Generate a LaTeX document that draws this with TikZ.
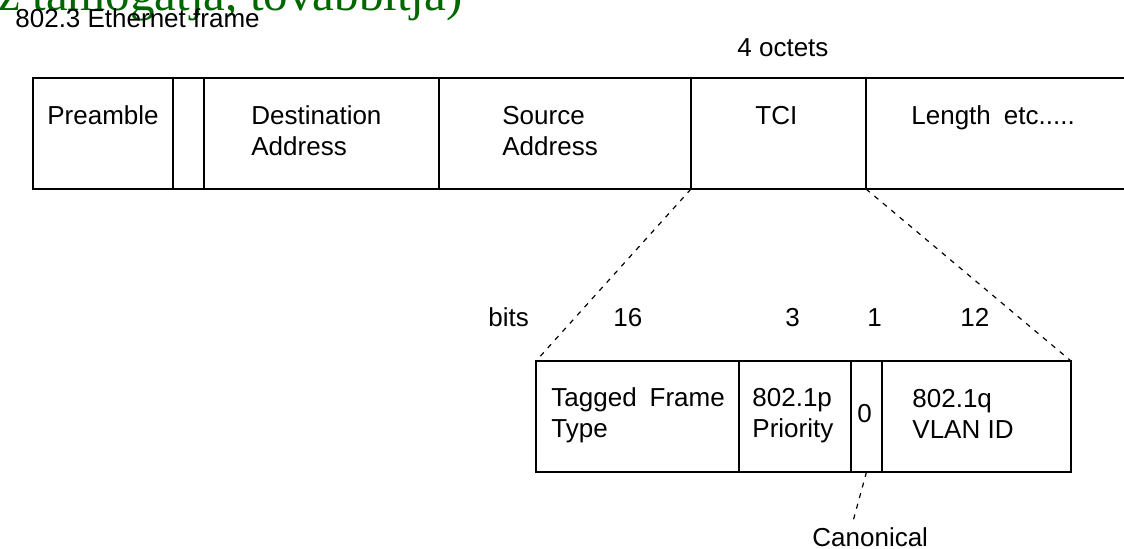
\documentclass[tikz,border=0pt]{standalone}
\usepackage{fontspec}
\setmainfont{Liberation Sans}
\newfontfamily\noteserif{Liberation Serif}
\usetikzlibrary{calc}
\definecolor{NoteGreen}{RGB}{0,102,0}

\begin{document}
\begin{tikzpicture}[x=0.5pt, y=-0.5pt,
    field/.style={draw, line width=1pt, anchor=north west, minimum height=55.5pt, inner sep=0pt, outer sep=0pt},
    lbl/.style={anchor=base west, inner sep=0pt, align=left, font=\fontsize{13}{15.5}\selectfont},
    zoomline/.style={dashed, dash pattern=on 2.5pt off 3pt, line width=0.6pt}]
    \useasboundingbox (0,0) rectangle (1124,549);
    % Clipped note at the top
    \node[anchor=base west, inner sep=0pt, text=NoteGreen, font=\noteserif\fontsize{24.5}{30}\selectfont] (note) at (-2,11) {z támogatja, továbbítja)};
    \node[lbl] (title) at (15,28) {802.3 Ethernet frame};
    \node[lbl] (octets) at (737,57) {4 octets};
    % Draw Ethernet frame fields
    \node[field, minimum width=70pt] (pre) at (33,78) {};
    \node[field, minimum width=15.5pt] (sfd) at (pre.north east) {};
    \node[field, minimum width=117.5pt] (dst) at (sfd.north east) {};
    \node[field, minimum width=126pt] (src) at (dst.north east) {};
    \node[field, minimum width=87.5pt] (tci) at (src.north east) {};
    \node[field, minimum width=140pt] (len) at (tci.north east) {};
    \node[lbl] (preLbl) at (47,125) {Preamble};
    \node[lbl] (dstLbl) at (251,156) {Destination\\Address};
    \node[lbl] (srcLbl) at (502,156) {Source\\Address};
    \node[lbl] (tciLbl) at (755,125) {TCI};
    \node[lbl] (lenLbl) at (911,125) {Length\enspace etc.....};
    % Draw TCI fields
    \node[field, minimum width=101.5pt] (tft) at (536,361) {};
    \node[field, minimum width=56pt] (pri) at (tft.north east) {};
    \node[field, minimum width=15.5pt] (cfi) at (pri.north east) {};
    \node[field, minimum width=94.5pt] (vid) at (cfi.north east) {};
    \node[lbl] (tftLbl) at (551,438) {Tagged\enspace Frame\\Type};
    \node[lbl] (priLbl) at (752,438) {802.1p\\Priority};
    \node[lbl] (cfiLbl) at (857,423) {0};
    \node[lbl] (vidLbl) at (912,439) {802.1q\\VLAN ID};
    % Bit widths
    \node[lbl] (bits) at (488,327) {bits};
    \node[lbl] (b16) at (613,327) {16};
    \node[lbl] (b3) at (785,327) {3};
    \node[lbl] (b1) at (867,327) {1};
    \node[lbl] (b12) at (960,327) {12};
    \node[lbl] (canon) at (812,546) {Canonical};
    \coordinate (canonEnd) at (852,525);
    % Draw zoom lines
    \draw[zoomline] (tci.south west) -- (tft.north west);
    \draw[zoomline] (tci.south east) -- (vid.north east);
    \draw[zoomline] (cfi.south) -- (canonEnd);
\end{tikzpicture}
\end{document}
